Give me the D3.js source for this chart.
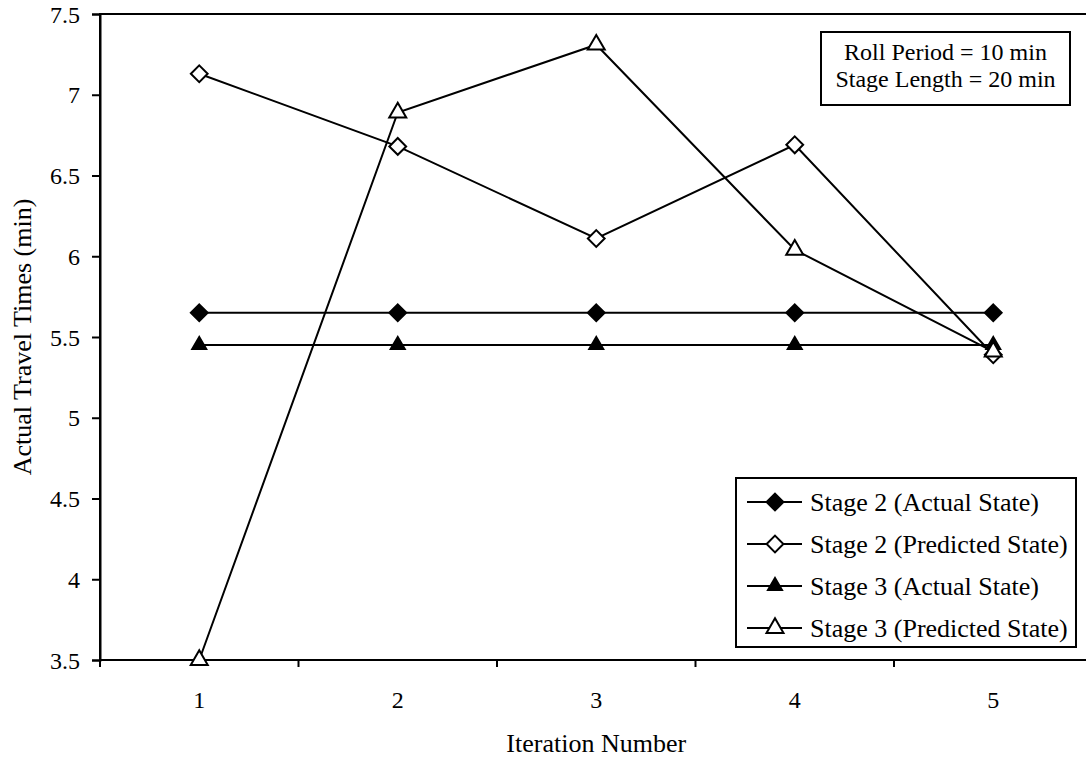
<!DOCTYPE html>
<html>
<head>
<meta charset="utf-8">
<script src="https://cdn.jsdelivr.net/npm/d3@7"></script>
<style>
  body { margin: 0; background: #fff; }
  svg text { font-family: "Liberation Serif", "Times New Roman", serif; fill: #000; }
</style>
</head>
<body>
<svg id="chart"></svg>
<script>
// data
const iterations = [1, 2, 3, 4, 5];
const stage2Actual = [5.65, 5.65, 5.65, 5.65, 5.65];
const stage2Predicted = [7.13, 6.68, 6.11, 6.69, 5.39];
const stage3Actual = [5.45, 5.45, 5.45, 5.45, 5.45];
const stage3Predicted = [3.5, 6.89, 7.31, 6.04, 5.41];
const yTicks = [3.5, 4, 4.5, 5, 5.5, 6, 6.5, 7, 7.5];
const seriesNames = ['Stage 2 (Actual State)', 'Stage 2 (Predicted State)', 'Stage 3 (Actual State)', 'Stage 3 (Predicted State)'];
const infoLines = ['Roll Period = 10 min', 'Stage Length = 20 min'];

const width = 1086, height = 763;
const plot = { left: 100, top: 14, bottom: 660, right: 1092.5 };

const svg = d3.select('#chart')
  .attr('width', width)
  .attr('height', height);

const x = d3.scaleBand()
  .domain(iterations)
  .range([plot.left, plot.right]);
const xc = d => x(d) + x.bandwidth() / 2;

const y = d3.scaleLinear()
  .domain([3.5, 7.5])
  .range([plot.bottom, plot.top]);

// frame (right side falls outside the picture)
svg.append('rect')
  .attr('x', plot.left).attr('y', plot.top)
  .attr('width', plot.right - plot.left).attr('height', plot.bottom - plot.top)
  .attr('fill', 'none').attr('stroke', '#000').attr('stroke-width', 2);

// y axis
const yAxis = svg.append('g')
  .attr('transform', `translate(${plot.left},0)`)
  .call(d3.axisLeft(y).tickValues(yTicks).tickSize(8).tickPadding(12).tickFormat(d3.format('')));
yAxis.select('.domain').attr('stroke-width', 2);
yAxis.selectAll('.tick line').attr('stroke-width', 2);
yAxis.selectAll('text').style('font-size', '24px').attr('dy', '0.34em');

// x axis: labels at band centres, ticks at band edges
const xAxis = svg.append('g')
  .attr('transform', `translate(0,${plot.bottom})`);
xAxis.append('line')
  .attr('x1', plot.left).attr('x2', plot.right)
  .attr('stroke', '#000').attr('stroke-width', 2);
const edges = iterations.map(d => x(d)).concat([plot.right]);
xAxis.selectAll('line.tk')
  .data(edges)
  .enter()
  .append('line')
  .attr('class', 'tk')
  .attr('x1', d => d).attr('x2', d => d)
  .attr('y1', 0).attr('y2', 7)
  .attr('stroke', '#000').attr('stroke-width', 2);
xAxis.selectAll('text')
  .data(iterations)
  .enter()
  .append('text')
  .attr('x', d => xc(d))
  .attr('y', 48)
  .attr('text-anchor', 'middle')
  .style('font-size', '24px')
  .text(d => d);

// axis titles
svg.append('text')
  .attr('x', (plot.left + plot.right) / 2)
  .attr('y', 752)
  .attr('text-anchor', 'middle')
  .style('font-size', '26px')
  .text('Iteration Number');

svg.append('text')
  .attr('transform', `translate(31,${(plot.top + plot.bottom) / 2}) rotate(-90)`)
  .attr('text-anchor', 'middle')
  .style('font-size', '26px')
  .text('Actual Travel Times (min)');

// series
const diamond = d3.symbol().type(d3.symbolDiamond2).size(180);
const triFilled = d3.symbol().type(d3.symbolTriangle).size(85);
const triOpen = d3.symbol().type(d3.symbolTriangle).size(125);

const series = [
  { name: seriesNames[0], values: stage2Actual, sym: diamond, fill: '#000' },
  { name: seriesNames[1], values: stage2Predicted, sym: diamond, fill: '#fff' },
  { name: seriesNames[2], values: stage3Actual, sym: triFilled, fill: '#000' },
  { name: seriesNames[3], values: stage3Predicted, sym: triOpen, fill: '#fff' }
];

const line = d3.line()
  .x((d, i) => xc(iterations[i]))
  .y(d => y(d));

series.forEach(s => {
  svg.append('path')
    .attr('d', line(s.values))
    .attr('fill', 'none')
    .attr('stroke', '#000')
    .attr('stroke-width', 2);
});
series.forEach(s => {
  svg.selectAll(null)
    .data(s.values)
    .enter()
    .append('path')
    .attr('transform', (d, i) => `translate(${xc(iterations[i])},${y(d)})`)
    .attr('d', s.sym())
    .attr('fill', s.fill)
    .attr('stroke', '#000')
    .attr('stroke-width', 2);
});

// info box
const info = svg.append('g');
info.append('rect')
  .attr('x', 821).attr('y', 32)
  .attr('width', 249).attr('height', 73)
  .attr('fill', '#fff').attr('stroke', '#000').attr('stroke-width', 2);
info.selectAll('text')
  .data(infoLines)
  .enter()
  .append('text')
  .attr('x', 945.5)
  .attr('y', (d, i) => 60 + i * 27)
  .attr('text-anchor', 'middle')
  .style('font-size', '24px')
  .text(d => d);

// legend
const legend = svg.append('g');
legend.append('rect')
  .attr('x', 736).attr('y', 478)
  .attr('width', 340).attr('height', 169)
  .attr('fill', '#fff').attr('stroke', '#000').attr('stroke-width', 2);
const rows = legend.selectAll('g.row')
  .data(series)
  .enter()
  .append('g')
  .attr('class', 'row')
  .attr('transform', (d, i) => `translate(0,${502 + i * 42})`);
rows.append('line')
  .attr('x1', 747).attr('x2', 802)
  .attr('stroke', '#000').attr('stroke-width', 2);
rows.append('path')
  .attr('transform', 'translate(775,0)')
  .attr('d', d => d.sym())
  .attr('fill', d => d.fill)
  .attr('stroke', '#000')
  .attr('stroke-width', 2);
rows.append('text')
  .attr('x', 810)
  .attr('y', 9)
  .style('font-size', '26px')
  .text(d => d.name);
</script>
</body>
</html>
